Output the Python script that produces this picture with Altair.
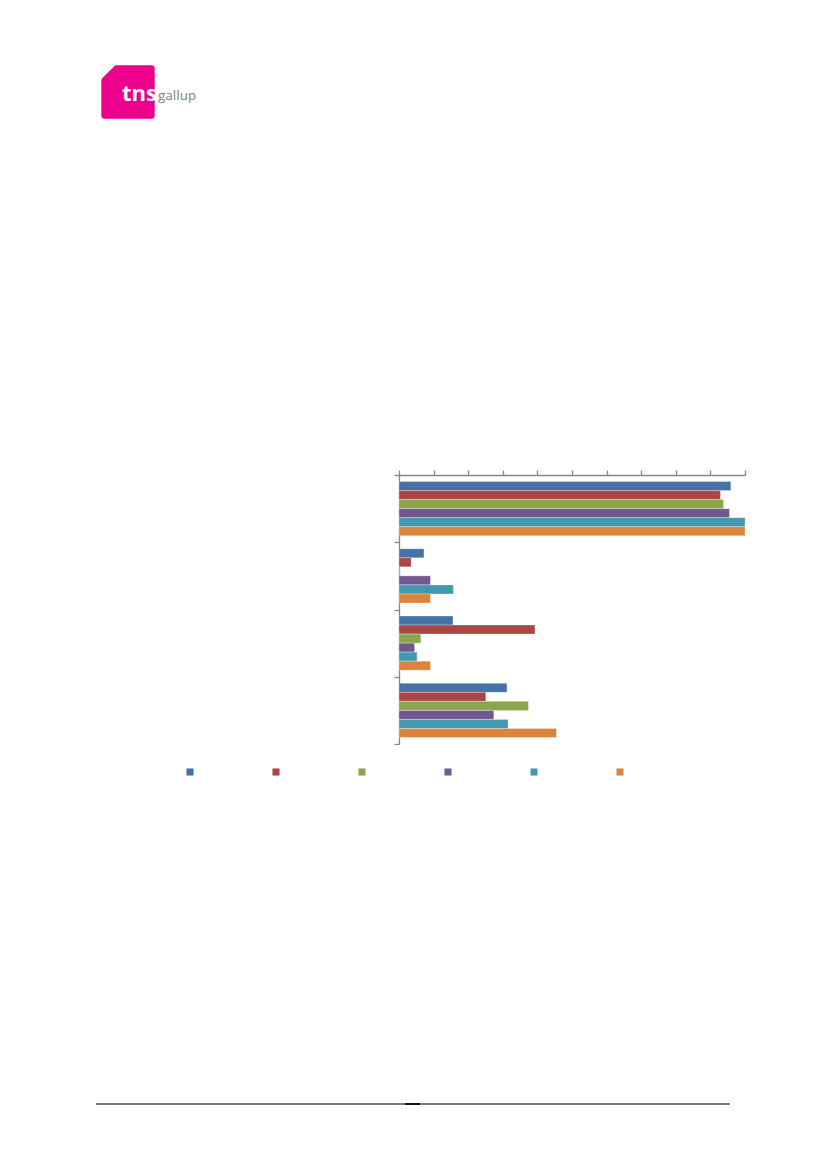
import altair as alt
import pandas as pd

categories = ["Kategori 1", "Kategori 2", "Kategori 3", "Kategori 4"]
series = ["Serie 1", "Serie 2", "Serie 3", "Serie 4", "Serie 5", "Serie 6"]
colors = ["#4572A7", "#AA4643", "#89A54E", "#71588F", "#4198AF", "#DB843D"]

s1 = [95.9, 7.2, 15.6, 31.2]
s2 = [92.9, 3.5, 39.3, 25.1]
s3 = [93.8, 0.0, 6.3, 37.4]
s4 = [95.5, 9.1, 4.5, 27.4]
s5 = [100.0, 15.7, 5.2, 31.5]
s6 = [100.0, 9.1, 9.1, 45.5]
values = [s1, s2, s3, s4, s5, s6]

rows = []
for sname, vals in zip(series, values):
    for cat, v in zip(categories, vals):
        rows.append({"kategori": cat, "serie": sname, "verdi": v})
df = pd.DataFrame(rows)

axis_col = "#868686"

bars = alt.Chart(df).mark_bar(stroke="white", strokeOpacity=0.5, strokeWidth=0.6).encode(
    x=alt.X("verdi:Q", scale=alt.Scale(domain=[0, 100], nice=False),
            axis=alt.Axis(orient="top", labels=False, title=None, grid=False,
                          values=list(range(0, 101, 10)), tickSize=5,
                          domainColor=axis_col, tickColor=axis_col, tickWidth=1.3, domainWidth=1.3)),
    y=alt.Y("kategori:N", sort=categories, scale=alt.Scale(paddingInner=0, paddingOuter=0),
            axis=alt.Axis(labels=False, title=None, tickBand="extent", tickSize=5,
                          domainColor=axis_col, tickColor=axis_col, tickWidth=1.3, domainWidth=1.3)),
    yOffset=alt.YOffset("serie:N", sort=series, scale=alt.Scale(paddingInner=0, paddingOuter=0.72)),
    color=alt.Color("serie:N", sort=series, scale=alt.Scale(domain=series, range=colors),
                    legend=alt.Legend(orient="none", direction="horizontal", legendX=-214, legendY=292,
                                      title=None, symbolType="square", symbolSize=50,
                                      symbolStrokeWidth=0, labelExpr="''", labelOffset=0,
                                      columnPadding=76, padding=0)),
)

one = pd.DataFrame({"a": [0]})
logo_path = "M -0.44 -1 L 0.88 -1 Q 1 -1 1 -0.88 L 1 0.88 Q 1 1 0.88 1 L -0.88 1 Q -1 1 -1 0.88 L -1 -0.42 Q -1 -0.47 -0.96 -0.52 L -0.52 -0.96 Q -0.48 -1 -0.44 -1 Z"
logo = alt.Chart(one).mark_point(shape=logo_path, filled=True, color="#EC008C", opacity=1, size=2850).encode(
    x=alt.value(-271), y=alt.value(-383))
tns = alt.Chart(one).mark_text(text="tns", font="Open Sans", fontWeight="bold", fontSize=22,
                               color="white", align="right", baseline="alphabetic").encode(
    x=alt.value(-242), y=alt.value(-374.5))
gallup = alt.Chart(one).mark_text(text="gallup", font="Open Sans", fontSize=13.5,
                                  color="#7f7f7f", align="left", baseline="alphabetic").encode(
    x=alt.value(-241), y=alt.value(-375.5))
footer = alt.Chart(one).mark_rule(color="#4d4d4d", strokeWidth=1.3).encode(
    x=alt.value(-303), x2=alt.value(331), y=alt.value(629))
footer_mid = alt.Chart(one).mark_rule(color="#111111", strokeWidth=2).encode(
    x=alt.value(6), x2=alt.value(21), y=alt.value(629))

chart = alt.layer(bars, logo, tns, gallup, footer, footer_mid).properties(
    width=346, height=269,
    padding={"left": 391, "top": 467, "right": 60, "bottom": 400},
    autosize=alt.AutoSizeParams(type="none"),
).configure_view(strokeWidth=0)

chart.save("out.html", embed_options={"renderer": "svg", "actions": False})
